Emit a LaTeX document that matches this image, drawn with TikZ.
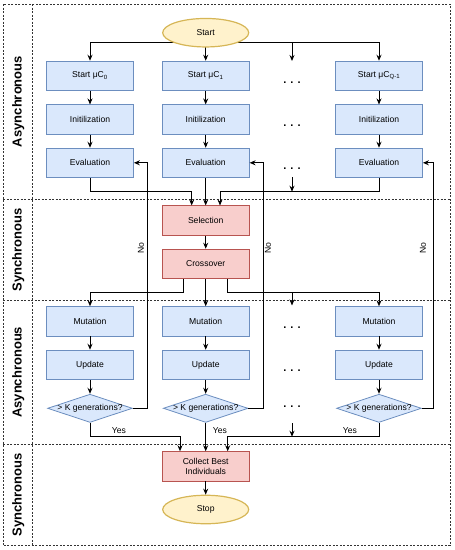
\documentclass[tikz,border=0pt]{standalone}
\usepackage{fontspec}
\setmainfont{Liberation Sans}
\usetikzlibrary{shapes.geometric,arrows.meta,backgrounds}
\definecolor{parfill}{HTML}{DAE8FC}
\definecolor{pardraw}{HTML}{6C8EBF}
\definecolor{synfill}{HTML}{F8CECC}
\definecolor{syndraw}{HTML}{B85450}
\definecolor{termfill}{HTML}{FFF2CC}
\definecolor{termdraw}{HTML}{D6B656}
\begin{document}
\begin{tikzpicture}[x=1pt, y=-1pt, every node/.style={font=\fontsize{8.6}{10.3}\selectfont},
  par/.style={draw=pardraw, fill=parfill, line width=0.8pt, minimum width=87pt, minimum height=29.3pt, inner sep=1pt, align=center},
  syn/.style={par, draw=syndraw, fill=synfill},
  term/.style={ellipse, draw=termdraw, fill=termfill, line width=1.2pt, minimum width=86pt, minimum height=28.5pt, inner sep=0pt},
  cond/.style={diamond, aspect=3, draw=pardraw, fill=parfill, line width=0.8pt, inner sep=0pt, text height=5.5pt, text depth=1pt},
  lane/.style={rotate=90, font=\fontsize{13}{15}\selectfont\bfseries},
  dots/.style={font=\fontsize{11}{13}\selectfont\bfseries, inner sep=0pt},
  frame/.style={draw=black!80, line width=0.7pt, dash pattern=on 2pt off 1.5pt},
  flow/.style={draw=black, line width=0.9pt, -{Stealth[length=6pt, width=5pt, inset=2pt]}}]
\useasboundingbox (0,0) rectangle (455,550);
% lanes
\draw[frame] (3,4) rectangle (450,545.6);
\draw[frame] (3,199) -- (450,199);
\draw[frame] (3,300.7) -- (450,300.7);
\draw[frame] (3,444) -- (450,444);
\draw[frame] (32,4) -- (32,545.6);
\node[lane] (lane1) at (18.3,101.5) {Asynchronous};
\node[lane] (lane2) at (18.3,250) {Synchronous};
\node[lane] (lane3) at (18.3,372.3) {Asynchronous};
\node[lane] (lane4) at (18.3,494.8) {Synchronous};
% nodes
\node[term] (start) at (205.7,32.7) {Start};
\node[par] (s0) at (90,75.8) {Start μC\textsubscript{0}};
\node[par] (s1) at (205.7,75.8) {Start μC\textsubscript{1}};
\node[par] (sq) at (379,75.8) {Start μC\textsubscript{Q-1}};
\node[par] (i0) at (90,119.5) {Initilization};
\node[par] (i1) at (205.7,119.5) {Initilization};
\node[par] (iq) at (379,119.5) {Initilization};
\node[par] (e0) at (90,162.8) {Evaluation};
\node[par] (e1) at (205.7,162.8) {Evaluation};
\node[par] (eq) at (379,162.8) {Evaluation};
\node[syn] (sel) at (205.7,220.5) {Selection};
\node[syn] (cro) at (205.7,263.8) {Crossover};
\node[par] (mu0) at (90,321.3) {Mutation};
\node[par] (mu1) at (205.7,321.3) {Mutation};
\node[par] (muq) at (379,321.3) {Mutation};
\node[par] (up0) at (90,364.8) {Update};
\node[par] (up1) at (205.7,364.8) {Update};
\node[par] (upq) at (379,364.8) {Update};
\node[cond] (k0) at (90,408.3) {> K generations?};
\node[cond] (k1) at (205.7,408.3) {> K generations?};
\node[cond] (kq) at (379,408.3) {> K generations?};
\node[syn] (coll) at (205.7,466.3) {Collect Best\\Individuals};
\node[term] (stop) at (205.7,509.5) {Stop};
\node[dots] (dt1) at (292,83) {. . .};
\node[dots] (dt2) at (292,126) {. . .};
\node[dots] (dt3) at (292,169) {. . .};
\node[dots] (dt4) at (292,327.7) {. . .};
\node[dots] (dt5) at (292,371) {. . .};
\node[dots] (dt6) at (292,406.7) {. . .};
% junctions
\coordinate (fork) at (205.7,42.7);
\coordinate (m1) at (292,191.7);
\coordinate (m2) at (292,292.7);
\coordinate (m3) at (292,436.7);
\coordinate (dq1) at (292,61);
\coordinate (dq2) at (292,177.3);
\coordinate (dq3) at (292,305.5);
\coordinate (dq4) at (292,423.3);
\coordinate (n0) at (147.7,162.8);
\coordinate (n1) at (263.3,162.8);
\coordinate (nq) at (433.3,162.8);
% start fan-out, behind the ellipse
\begin{pgfonlayer}{background}
\draw[flow] (fork) -| (s0);
\draw[flow] (fork) -- (s1);
\draw[flow] (fork) -| (dq1);
\draw[flow] (fork) -| (sq);
\end{pgfonlayer}
% columns
\foreach \c in {0,1,q} {
  \draw[flow] (s\c) -- (i\c);
  \draw[flow] (i\c) -- (e\c);
  \draw[flow] (mu\c) -- (up\c);
  \draw[flow] (up\c) -- (k\c);
}
% into selection
\draw[flow] (e0.south) |- ([xshift=-14pt]sel.north |- m1) -- ([xshift=-14pt]sel.north);
\draw[flow] (e1) -- (sel);
\draw[flow] (eq.south) |- ([xshift=14.3pt]sel.north |- m1) -- ([xshift=14.3pt]sel.north);
\draw[flow] (dq2) -- (m1);
\draw[flow] (sel) -- (cro);
% out of crossover
\draw[flow] ([xshift=-22.4pt]cro.south) |- (m2 -| mu0) -- (mu0);
\draw[flow] (cro) -- (mu1);
\draw[flow] ([xshift=22pt]cro.south) |- (m2 -| muq) -- (muq);
\draw[flow] (m2) -- (dq3);
% loops back
\draw[flow] (k0) -| (n0) -- (e0);
\draw[flow] (k1) -| (n1) -- (e1);
\draw[flow] (kq) -| (nq) -- (eq);
\node[rotate=90] (no0) at (141,248.3) {No};
\node[rotate=90] (no1) at (268,248.3) {No};
\node[rotate=90] (noq) at (423,248.3) {No};
% into collect
\draw[flow] (k0.south) |- ([xshift=-25.7pt]coll.north |- m3) -- ([xshift=-25.7pt]coll.north);
\draw[flow] (k1) -- (coll);
\draw[flow] (kq.south) |- ([xshift=22pt]coll.north |- m3) -- ([xshift=22pt]coll.north);
\draw[flow] (dq4) -- (m3);
\node (yes0) at (119,430.3) {Yes};
\node (yes1) at (220,430.3) {Yes};
\node (yesq) at (350,430.3) {Yes};
\draw[flow] (coll) -- (stop);
\end{tikzpicture}
\end{document}
